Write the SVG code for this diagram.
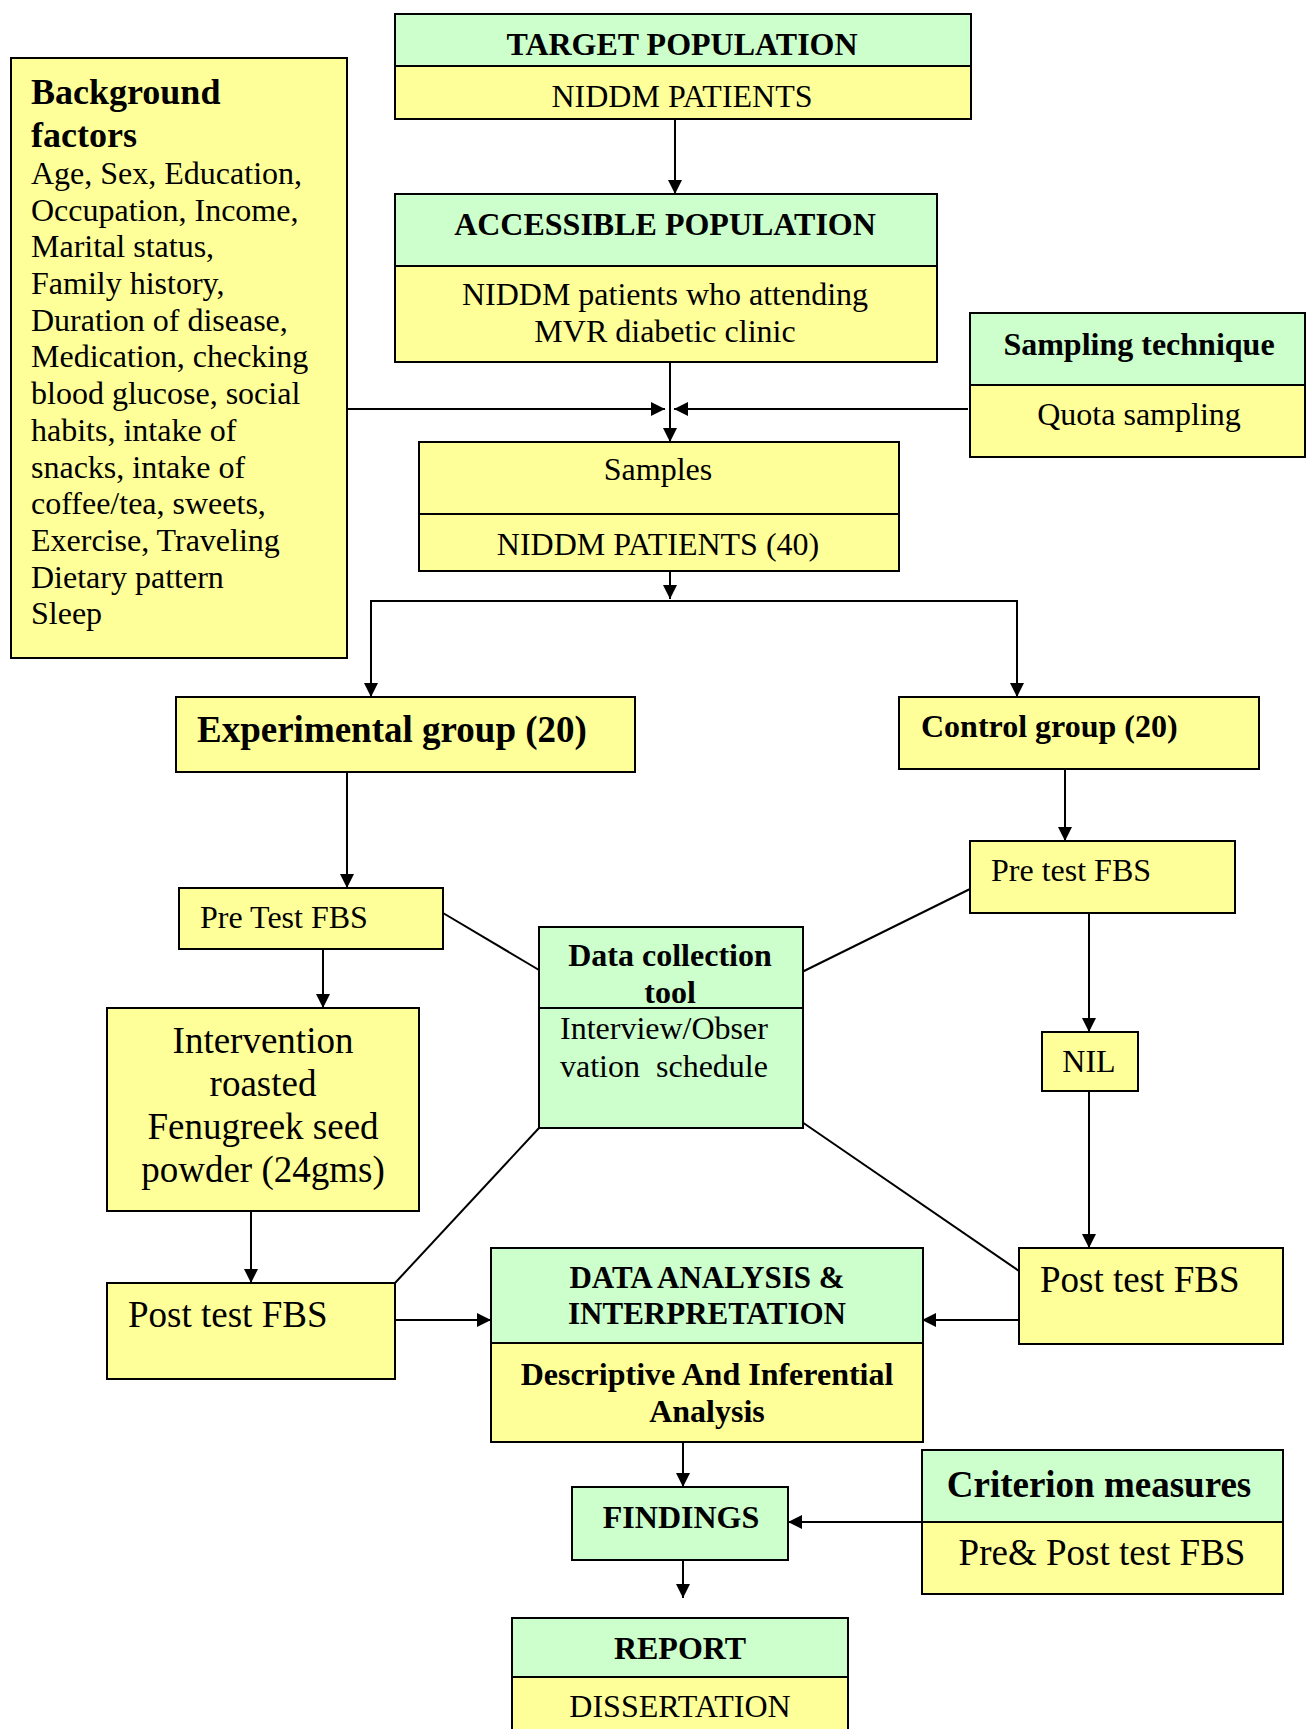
<svg xmlns="http://www.w3.org/2000/svg" width="1306" height="1729" viewBox="0 0 1306 1729">
<style>
.g{fill:#CCFFCC;stroke:#000;stroke-width:2}
.y{fill:#FFFF99;stroke:#000;stroke-width:2}
.o{fill:none;stroke:#000;stroke-width:2}
text{font-family:"Liberation Serif","Times New Roman",serif;fill:#000}
.t{font-size:32px}
.b{font-size:32px;font-weight:bold}
.c{text-anchor:middle}
.l{stroke:#000;stroke-width:2;fill:none}
</style>
<defs>
<marker id="ah" markerUnits="userSpaceOnUse" markerWidth="14" markerHeight="14" refX="14" refY="7" orient="auto">
<path d="M0,0 L14,7 L0,14 z" fill="#000"/>
</marker>
</defs>
<rect width="1306" height="1729" fill="#fff"/>

<g id="connectors">
<line class="l" x1="675" y1="119" x2="675" y2="194" marker-end="url(#ah)"/>
<line class="l" x1="670" y1="362" x2="670" y2="442" marker-end="url(#ah)"/>
<line class="l" x1="347" y1="409" x2="665" y2="409" marker-end="url(#ah)"/>
<line class="l" x1="968" y1="409" x2="674" y2="409" marker-end="url(#ah)"/>
<line class="l" x1="670" y1="571" x2="670" y2="599" marker-end="url(#ah)"/>
<polyline class="l" points="371,697 371,601 1017,601 1017,697"/>
<line class="l" x1="371" y1="601" x2="371" y2="697" marker-end="url(#ah)"/>
<line class="l" x1="1017" y1="601" x2="1017" y2="697" marker-end="url(#ah)"/>
<line class="l" x1="347" y1="772" x2="347" y2="888" marker-end="url(#ah)"/>
<line class="l" x1="1065" y1="769" x2="1065" y2="841" marker-end="url(#ah)"/>
<line class="l" x1="323" y1="949" x2="323" y2="1008" marker-end="url(#ah)"/>
<line class="l" x1="251" y1="1211" x2="251" y2="1283" marker-end="url(#ah)"/>
<line class="l" x1="395" y1="1320" x2="491" y2="1320" marker-end="url(#ah)"/>
<line class="l" x1="1019" y1="1320" x2="922" y2="1320" marker-end="url(#ah)"/>
<line class="l" x1="1089" y1="913" x2="1089" y2="1032" marker-end="url(#ah)"/>
<line class="l" x1="1089" y1="1091" x2="1089" y2="1248" marker-end="url(#ah)"/>
<line class="l" x1="443" y1="913" x2="539" y2="970"/>
<line class="l" x1="802" y1="972" x2="970" y2="889"/>
<line class="l" x1="539" y1="1128" x2="395" y2="1283"/>
<line class="l" x1="802" y1="1122" x2="1019" y2="1271"/>
<line class="l" x1="683" y1="1442" x2="683" y2="1487" marker-end="url(#ah)"/>
<line class="l" x1="922" y1="1522" x2="788" y2="1522" marker-end="url(#ah)"/>
<line class="l" x1="683" y1="1560" x2="683" y2="1598" marker-end="url(#ah)"/>
</g>

<g id="background">
<rect class="y" x="11" y="58" width="336" height="600"/>
<text style="font-size:36px;font-weight:bold" x="31" y="104">Background</text>
<text style="font-size:36px;font-weight:bold" x="31" y="147">factors</text>
<text class="t" x="31" y="184">Age, Sex, Education,</text>
<text class="t" x="31" y="221">Occupation, Income,</text>
<text class="t" x="31" y="257">Marital status,</text>
<text class="t" x="31" y="294">Family history,</text>
<text class="t" x="31" y="331">Duration of disease,</text>
<text class="t" x="31" y="367">Medication, checking</text>
<text class="t" x="31" y="404">blood glucose, social</text>
<text class="t" x="31" y="441">habits, intake of</text>
<text class="t" x="31" y="478">snacks, intake of</text>
<text class="t" x="31" y="514">coffee/tea, sweets,</text>
<text class="t" x="31" y="551">Exercise, Traveling</text>
<text class="t" x="31" y="588">Dietary pattern</text>
<text class="t" x="31" y="624">Sleep</text>
</g>

<g id="target">
<rect class="g" x="395" y="14" width="576" height="52"/>
<rect class="y" x="395" y="66" width="576" height="53"/>
<text class="b c" x="682" y="55">TARGET POPULATION</text>
<text class="t c" x="682" y="107">NIDDM PATIENTS</text>
</g>

<g id="accessible">
<rect class="g" x="395" y="194" width="542" height="72"/>
<rect class="y" x="395" y="266" width="542" height="96"/>
<text class="b c" x="665" y="235">ACCESSIBLE POPULATION</text>
<text class="t c" x="665" y="305">NIDDM patients who attending</text>
<text class="t c" x="665" y="342">MVR diabetic clinic</text>
</g>

<g id="sampling">
<rect class="g" x="970" y="313" width="335" height="72"/>
<rect class="y" x="970" y="385" width="335" height="72"/>
<text class="b c" x="1139" y="355">Sampling technique</text>
<text class="t c" x="1139" y="425">Quota sampling</text>
</g>

<g id="samples">
<rect class="y" x="419" y="442" width="480" height="72"/>
<rect class="y" x="419" y="514" width="480" height="57"/>
<text class="t c" x="658" y="480">Samples</text>
<text class="t c" x="658" y="555">NIDDM PATIENTS (40)</text>
</g>

<g id="experimental">
<rect class="y" x="176" y="697" width="459" height="75"/>
<text style="font-size:37px;font-weight:bold" x="197" y="742">Experimental group (20)</text>
</g>

<g id="control">
<rect class="y" x="899" y="697" width="360" height="72"/>
<text class="b" x="921" y="737">Control group (20)</text>
</g>

<g id="pretest-left">
<rect class="y" x="179" y="888" width="264" height="61"/>
<text class="t" x="200" y="928">Pre Test FBS</text>
</g>

<g id="pretest-right">
<rect class="y" x="970" y="841" width="265" height="72"/>
<text class="t" x="991" y="881">Pre test FBS</text>
</g>

<g id="datacollection">
<rect class="g" x="539" y="927" width="264" height="81"/>
<rect class="g" x="539" y="1008" width="264" height="120"/>
<text class="b c" x="670" y="966">Data collection</text>
<text class="b c" x="670" y="1003">tool</text>
<text class="t" x="560" y="1039">Interview/Obser</text>
<text class="t" x="560" y="1077" xml:space="preserve">vation  schedule</text>
</g>

<g id="nil">
<rect class="y" x="1042" y="1032" width="96" height="59"/>
<text class="t c" x="1089" y="1072">NIL</text>
</g>

<g id="intervention">
<rect class="y" x="107" y="1008" width="312" height="203"/>
<text class="c" style="font-size:37px" x="263" y="1053">Intervention</text>
<text class="c" style="font-size:37px" x="263" y="1096">roasted</text>
<text class="c" style="font-size:37px" x="263" y="1139">Fenugreek seed</text>
<text class="c" style="font-size:37px" x="263" y="1182">powder (24gms)</text>
</g>

<g id="posttest-left">
<rect class="y" x="107" y="1283" width="288" height="96"/>
<text style="font-size:37px" x="128" y="1327">Post test FBS</text>
</g>

<g id="posttest-right">
<rect class="y" x="1019" y="1248" width="264" height="96"/>
<text style="font-size:37px" x="1040" y="1292">Post test FBS</text>
</g>

<g id="dataanalysis">
<rect class="g" x="491" y="1248" width="432" height="95"/>
<rect class="y" x="491" y="1343" width="432" height="99"/>
<text class="c" style="font-size:31px;font-weight:bold" x="707" y="1288">DATA ANALYSIS &amp;</text>
<text class="c" style="font-size:31px;font-weight:bold" x="707" y="1324">INTERPRETATION</text>
<text class="b c" x="707" y="1385">Descriptive And Inferential</text>
<text class="b c" x="707" y="1422">Analysis</text>
</g>

<g id="findings">
<rect class="g" x="572" y="1487" width="216" height="73"/>
<text class="b c" x="681" y="1528">FINDINGS</text>
</g>

<g id="criterion">
<rect class="g" x="922" y="1450" width="361" height="72"/>
<rect class="y" x="922" y="1522" width="361" height="72"/>
<text class="c" style="font-size:37px;font-weight:bold" x="1099" y="1497">Criterion measures</text>
<text class="c" style="font-size:37px" x="1102" y="1565">Pre&amp; Post test FBS</text>
</g>

<g id="report">
<rect class="g" x="512" y="1618" width="336" height="59"/>
<rect class="y" x="512" y="1677" width="336" height="70"/>
<text class="b c" x="680" y="1659">REPORT</text>
<text class="t c" x="680" y="1717">DISSERTATION</text>
</g>
</svg>
